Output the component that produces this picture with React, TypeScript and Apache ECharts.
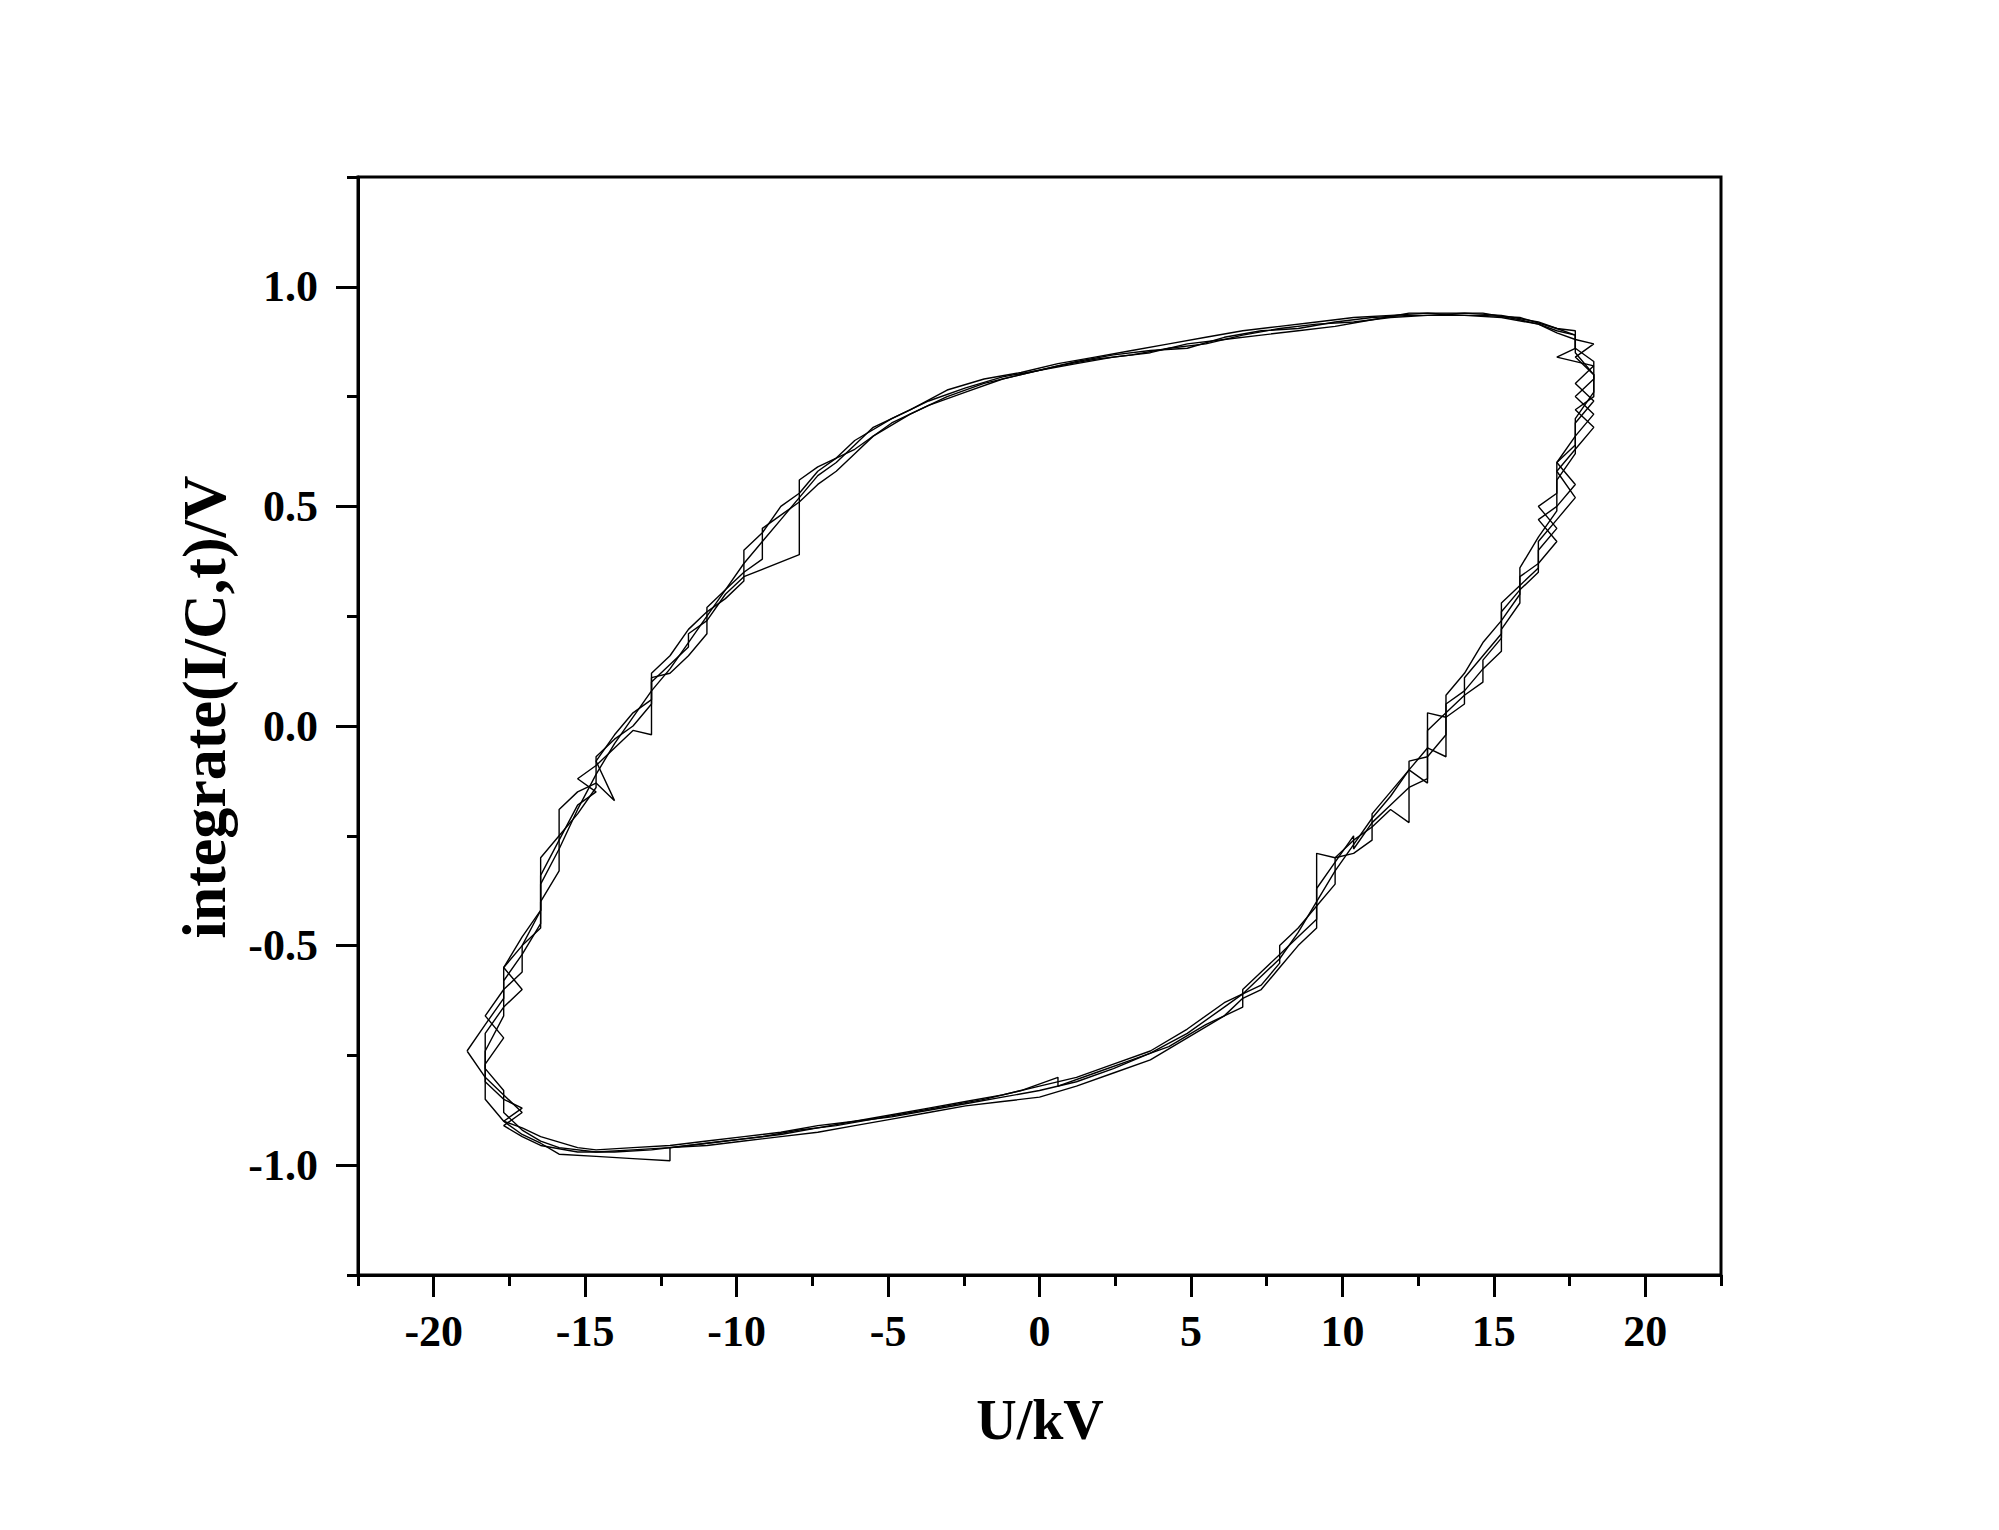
import React, { useEffect, useRef } from "react";
import * as echarts from "echarts";

// Tick values
const xMajorTicks = [-20, -15, -10, -5, 0, 5, 10, 15, 20];
const xMinorTicks = [-22.5, -17.5, -12.5, -7.5, -2.5, 2.5, 7.5, 12.5, 17.5, 22.5];
const yMajorTicks = [-1.0, -0.5, 0.0, 0.5, 1.0];
const yMinorTicks = [-1.25, -0.75, -0.25, 0.25, 0.75, 1.25];

const xTitle = "U/kV";
const yTitle = "integrate(I/C,t)/V";

// Loop traces [U (kV), integrate(I/C,t) (V)]
const loop1: number[][] = [
  [-18.3, -0.74], [-17.69, -0.66], [-17.69, -0.58], [-17.08, -0.52], [-16.47, -0.45], [-16.47, -0.36],
  [-15.86, -0.28], [-15.25, -0.19], [-14.64, -0.11], [-14.03, -0.04], [-13.42, 0.02], [-12.81, 0.08],
  [-12.2, 0.13], [-11.59, 0.19], [-10.98, 0.25], [-10.37, 0.31], [-9.76, 0.37], [-9.15, 0.42],
  [-8.54, 0.47], [-7.93, 0.52], [-7.32, 0.57], [-6.71, 0.6], [-6.1, 0.64], [-5.49, 0.68],
  [-4.27, 0.72], [-3.05, 0.765], [-1.83, 0.79], [-0.61, 0.805], [0.61, 0.825], [1.83, 0.84],
  [3.05, 0.855], [4.27, 0.87], [5.49, 0.885], [6.71, 0.9], [7.93, 0.91], [9.15, 0.92],
  [10.37, 0.93], [11.59, 0.935], [12.81, 0.94], [14.03, 0.935], [15.25, 0.93], [16.47, 0.915],
  [17.08, 0.9], [17.69, 0.89], [17.69, 0.85], [18.3, 0.8],
  [18.3, 0.76], [17.69, 0.7], [17.69, 0.62], [17.08, 0.56], [17.08, 0.49], [16.47, 0.43],
  [15.86, 0.36], [15.86, 0.3], [15.25, 0.24], [14.64, 0.19], [14.03, 0.12], [13.42, 0.07],
  [13.42, -0.07], [12.81, -0.05], [12.2, -0.1], [11.59, -0.16], [10.98, -0.21], [10.37, -0.27],
  [9.76, -0.33], [9.15, -0.4], [8.54, -0.47], [7.93, -0.53], [7.32, -0.57], [6.71, -0.61],
  [6.1, -0.64], [4.88, -0.7], [3.66, -0.745], [2.44, -0.78], [1.22, -0.81], [0, -0.83],
  [-1.22, -0.845], [-2.44, -0.86], [-3.66, -0.875], [-4.88, -0.89], [-6.1, -0.9], [-7.32, -0.915],
  [-8.54, -0.93], [-9.76, -0.94], [-10.98, -0.95], [-12.2, -0.96], [-13.42, -0.965], [-14.64, -0.97],
  [-15.86, -0.96], [-16.47, -0.945], [-17.08, -0.92], [-17.69, -0.88], [-17.69, -0.83], [-18.3, -0.78],
  [-18.3, -0.74],
];

const loop2: number[][] = [
  [-18.3, -0.8], [-18.3, -0.7], [-17.69, -0.64], [-17.08, -0.6], [-17.69, -0.55], [-17.08, -0.48],
  [-16.47, -0.42], [-16.47, -0.34], [-15.86, -0.26], [-15.86, -0.19], [-15.25, -0.15], [-14.64, -0.13],
  [-14.03, -0.17], [-14.64, -0.08], [-14.03, -0.02], [-13.42, 0.03], [-12.81, 0.06], [-12.81, 0.12],
  [-12.2, 0.16], [-11.59, 0.22], [-10.98, 0.26], [-10.37, 0.29], [-9.76, 0.33], [-9.76, 0.4],
  [-9.15, 0.44], [-8.54, 0.5], [-7.93, 0.53], [-7.32, 0.58], [-6.71, 0.61], [-6.1, 0.65],
  [-4.88, 0.7], [-3.66, 0.74], [-2.44, 0.77], [-1.22, 0.795], [0, 0.81], [1.22, 0.83],
  [2.44, 0.845], [3.66, 0.855], [4.88, 0.86], [6.1, 0.885], [7.32, 0.9], [8.54, 0.905],
  [9.76, 0.92], [10.98, 0.93], [12.2, 0.935], [13.42, 0.935], [14.64, 0.935], [15.86, 0.93],
  [17.08, 0.905], [17.69, 0.9], [17.69, 0.86], [18.3, 0.83], [18.3, 0.79],
  [17.69, 0.75], [18.3, 0.71], [17.69, 0.66], [17.08, 0.6], [17.69, 0.55], [17.08, 0.5],
  [16.47, 0.47], [17.08, 0.42], [16.47, 0.37], [15.86, 0.34], [15.86, 0.28], [15.25, 0.22],
  [15.25, 0.17], [14.64, 0.13], [14.03, 0.08], [13.42, 0.05], [13.42, -0.02], [12.81, -0.07],
  [12.81, -0.13], [12.2, -0.1], [11.59, -0.15], [10.98, -0.2], [10.98, -0.26], [10.37, -0.29],
  [9.76, -0.3], [9.15, -0.29], [9.15, -0.46], [8.54, -0.5], [7.93, -0.55], [7.32, -0.6],
  [6.71, -0.62], [6.1, -0.66], [4.88, -0.71], [3.66, -0.76], [2.44, -0.79], [1.22, -0.82],
  [0, -0.845], [-1.22, -0.855], [-2.44, -0.865], [-3.66, -0.88], [-4.88, -0.895], [-6.1, -0.91],
  [-7.32, -0.925], [-8.54, -0.935], [-9.76, -0.945], [-10.98, -0.955], [-12.2, -0.96], [-12.2, -0.99],
  [-13.42, -0.985], [-14.64, -0.98], [-15.86, -0.975], [-16.47, -0.95], [-17.08, -0.93], [-17.69, -0.9],
  [-18.3, -0.85], [-18.3, -0.8],
];

const loop3: number[][] = [
  [-18.9, -0.74], [-18.3, -0.68], [-17.69, -0.62], [-17.69, -0.55], [-17.08, -0.5], [-16.47, -0.42],
  [-16.47, -0.3], [-15.86, -0.25], [-15.25, -0.2], [-14.64, -0.14], [-14.64, -0.07], [-14.03, -0.03],
  [-13.42, 0.0], [-12.81, 0.05], [-12.81, 0.1], [-12.2, 0.14], [-11.59, 0.18], [-11.59, 0.21],
  [-10.98, 0.24], [-10.37, 0.3], [-9.76, 0.34], [-7.93, 0.39], [-7.93, 0.56], [-7.32, 0.59],
  [-6.1, 0.63], [-4.88, 0.69], [-3.66, 0.73],
  [-2.44, 0.76], [-1.22, 0.79], [0, 0.81], [1.22, 0.825], [2.44, 0.84], [3.66, 0.85],
  [4.88, 0.87], [6.1, 0.88], [7.32, 0.89], [8.54, 0.9], [9.76, 0.91], [10.98, 0.925],
  [12.2, 0.94], [13.42, 0.94], [14.64, 0.94], [15.86, 0.925], [16.47, 0.915], [17.08, 0.895],
  [17.69, 0.88], [18.3, 0.87], [17.69, 0.84], [18.3, 0.8],
  [18.3, 0.75], [17.69, 0.72], [18.3, 0.68], [17.69, 0.63], [17.08, 0.58], [17.69, 0.52],
  [17.08, 0.47], [16.47, 0.42], [16.47, 0.36], [15.86, 0.32], [15.25, 0.28], [15.25, 0.21],
  [14.64, 0.16], [14.03, 0.11], [14.03, 0.05], [13.42, 0.02], [12.81, 0.03], [12.81, -0.12],
  [12.2, -0.14], [11.59, -0.18], [10.98, -0.22], [10.37, -0.28], [10.37, -0.25], [9.76, -0.31],
  [9.15, -0.37], [9.15, -0.44], [8.54, -0.48], [7.93, -0.52], [7.32, -0.56], [6.71, -0.6],
  [6.71, -0.64], [5.49, -0.68], [4.27, -0.73], [3.05, -0.76], [1.83, -0.79], [0.61, -0.82],
  [0.61, -0.8], [-0.61, -0.83], [-1.83, -0.85], [-3.05, -0.865], [-4.27, -0.88], [-5.49, -0.895],
  [-6.71, -0.91], [-7.93, -0.92], [-9.15, -0.935], [-10.37, -0.945], [-11.59, -0.955], [-12.81, -0.965],
  [-14.03, -0.97], [-15.25, -0.97], [-16.47, -0.955], [-17.08, -0.935], [-17.69, -0.91], [-17.08, -0.88],
  [-17.69, -0.84], [-18.3, -0.8], [-18.9, -0.74],
];

const loop4: number[][] = [
  [-18.3, -0.77], [-17.69, -0.71], [-18.3, -0.66], [-17.69, -0.6], [-17.08, -0.56], [-17.08, -0.5],
  [-16.47, -0.46], [-16.47, -0.4], [-15.86, -0.33], [-15.86, -0.26], [-15.25, -0.18], [-14.64, -0.15],
  [-15.25, -0.12], [-14.64, -0.09], [-14.03, -0.05], [-13.42, -0.01], [-12.81, -0.02], [-12.81, 0.11],
  [-12.2, 0.12], [-11.59, 0.16], [-10.98, 0.21], [-10.98, 0.27], [-10.37, 0.31], [-9.76, 0.35],
  [-9.15, 0.38], [-9.15, 0.45], [-8.54, 0.48], [-7.93, 0.51], [-7.32, 0.55], [-6.71, 0.58],
  [-6.1, 0.62], [-5.49, 0.66], [-4.27, 0.71], [-3.05, 0.75], [-1.83, 0.78], [-0.61, 0.8],
  [0.61, 0.82], [1.83, 0.835], [3.05, 0.845], [4.27, 0.86], [5.49, 0.87], [6.71, 0.89],
  [7.93, 0.905], [9.15, 0.915], [10.37, 0.92], [11.59, 0.93], [12.81, 0.935], [14.03, 0.94],
  [15.25, 0.935], [16.47, 0.92], [17.08, 0.905], [17.69, 0.89], [17.69, 0.86], [17.08, 0.84],
  [18.3, 0.82], [17.69, 0.78],
  [18.3, 0.74], [17.69, 0.69], [17.69, 0.64], [17.08, 0.6], [17.08, 0.53], [16.47, 0.5],
  [17.08, 0.45], [16.47, 0.4], [16.47, 0.35], [15.86, 0.31], [15.25, 0.26], [15.25, 0.2],
  [14.64, 0.15], [14.64, 0.1], [14.03, 0.07], [13.42, 0.03], [12.81, -0.01], [12.81, -0.07],
  [12.2, -0.08], [12.2, -0.22], [11.59, -0.19], [10.98, -0.23], [10.37, -0.26], [9.76, -0.3],
  [9.76, -0.36], [9.15, -0.41], [8.54, -0.46], [7.93, -0.5], [7.93, -0.54], [7.32, -0.59],
  [6.1, -0.63], [4.88, -0.69], [3.66, -0.74], [2.44, -0.77], [1.22, -0.8], [0, -0.82],
  [-1.22, -0.84], [-2.44, -0.855], [-3.66, -0.87], [-4.88, -0.885], [-6.1, -0.9], [-7.32, -0.91],
  [-8.54, -0.925], [-9.76, -0.935], [-10.98, -0.945], [-12.2, -0.955], [-13.42, -0.96], [-14.64, -0.965],
  [-15.25, -0.96], [-16.47, -0.935], [-17.08, -0.915], [-17.69, -0.9], [-17.08, -0.87], [-17.69, -0.85],
  [-18.3, -0.81], [-18.3, -0.77],
];

const loops = [loop1, loop2, loop3, loop4];

const FONT = "'Liberation Serif', 'Times New Roman', serif";

export default function App() {
  const ref = useRef<HTMLDivElement>(null);

  useEffect(() => {
    document.body.style.margin = "0";
    document.body.style.overflow = "hidden";
    if (!ref.current) return;
    const chart = echarts.init(ref.current, null, { renderer: "svg" });

    const gridLeft = 358;
    const gridTop = 177;
    const gridW = 1363;
    const gridH = 1098;

    const lineStyle = { color: "#000", width: 3 };

    const option: any = {
      animation: false,
      backgroundColor: "#fff",
      grid: {
        left: gridLeft,
        top: gridTop,
        width: gridW,
        height: gridH,
        show: true,
        borderColor: "#000",
        borderWidth: 3,
        backgroundColor: "transparent",
      },
      xAxis: [
        {
          type: "value",
          min: -22.5,
          max: 22.5,
          position: "bottom",
          axisLine: { show: true, onZero: false, lineStyle },
          axisTick: { show: true, inside: false, length: 22, lineStyle, customValues: xMajorTicks },
          axisLabel: {
            show: true,
            customValues: xMajorTicks,
            margin: 34,
            color: "#000",
            fontFamily: FONT,
            fontWeight: "bold",
            fontSize: 44,
            formatter: (v: number) => String(v),
          },
          splitLine: { show: false },
        },
        {
          type: "value",
          min: -22.5,
          max: 22.5,
          position: "bottom",
          axisLine: { show: false, onZero: false },
          axisTick: { show: true, inside: false, length: 11, lineStyle, customValues: xMinorTicks },
          axisLabel: { show: false },
          splitLine: { show: false },
        },
      ],
      yAxis: [
        {
          type: "value",
          min: -1.25,
          max: 1.25,
          position: "left",
          axisLine: { show: true, onZero: false, lineStyle },
          axisTick: { show: true, inside: false, length: 22, lineStyle, customValues: yMajorTicks },
          axisLabel: {
            show: true,
            customValues: yMajorTicks,
            margin: 40,
            color: "#000",
            fontFamily: FONT,
            fontWeight: "bold",
            fontSize: 44,
            formatter: (v: number) => v.toFixed(1),
          },
          splitLine: { show: false },
        },
        {
          type: "value",
          min: -1.25,
          max: 1.25,
          position: "left",
          axisLine: { show: false, onZero: false },
          axisTick: { show: true, inside: false, length: 11, lineStyle, customValues: yMinorTicks },
          axisLabel: { show: false },
          splitLine: { show: false },
        },
      ],
      graphic: [
        {
          type: "text",
          x: 1040,
          y: 1420,
          style: {
            text: xTitle,
            fill: "#000",
            font: `bold 56px ${FONT}`,
            textAlign: "center",
            textVerticalAlign: "middle",
          },
        },
        {
          type: "text",
          x: 204,
          y: 707,
          rotation: Math.PI / 2,
          style: {
            text: yTitle,
            fill: "#000",
            font: `bold 62px ${FONT}`,
            textAlign: "center",
            textVerticalAlign: "middle",
          },
        },
      ],
      series: loops.map((d, i) => ({
        type: "line",
        name: "cycle " + (i + 1),
        xAxisIndex: 0,
        yAxisIndex: 0,
        data: d,
        showSymbol: false,
        symbol: "none",
        silent: true,
        lineStyle: { color: "#000", width: 1.4 },
        z: 2,
      })),
    };

    chart.setOption(option);
    return () => chart.dispose();
  }, []);

  return <div ref={ref} style={{ width: 1999, height: 1530 }} />;
}
